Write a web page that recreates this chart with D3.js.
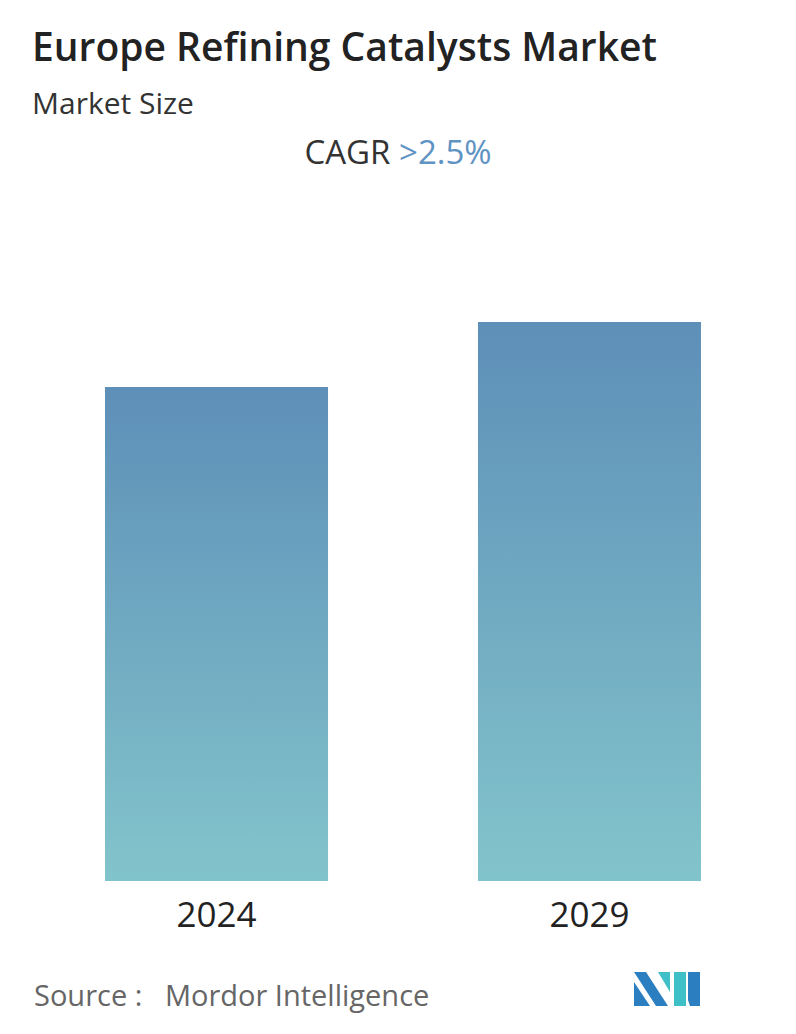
<!DOCTYPE html>
<html><head><meta charset="utf-8">
<script src="https://cdn.jsdelivr.net/npm/d3@7"></script>
<style>body{margin:0;background:#fff;font-family:"Open Sans",sans-serif}</style>
</head><body><div id="chart"></div>
<script>
var years = ["2024", "2029"];
var sizes = [4.94, 5.59];

var svg = d3.select('#chart').append('svg').attr('width', 796).attr('height', 1034);

var defs = svg.append('defs');
var grad = defs.append('linearGradient').attr('id', 'barGrad')
   .attr('x1', 0).attr('y1', 0).attr('x2', 0).attr('y2', 1);
grad.append('stop').attr('offset', '0%').attr('stop-color', '#5e8fb8');
grad.append('stop').attr('offset', '100%').attr('stop-color', '#82c4cb');

svg.append('text').attr('x', 32).attr('y', 61).attr('font-size', 39).attr('font-weight', 600)
   .attr('fill', '#222').text('Europe Refining Catalysts Market');
svg.append('text').attr('x', 32).attr('y', 114).attr('font-size', 30).attr('fill', '#333').text('Market Size');

var cagr = svg.append('text').attr('x', 398).attr('y', 164).attr('text-anchor', 'middle').attr('font-size', 33);
cagr.append('tspan').attr('fill', '#333').text('CAGR ');
cagr.append('tspan').attr('fill', '#5e93c4').text('>2.5%');

var x = d3.scaleBand().domain(years).range([105, 701]).paddingInner(0.402).paddingOuter(0);
var y = d3.scaleLinear().domain([0, d3.max(sizes)]).range([881, 322]);

svg.selectAll('rect.bar').data(years).enter().append('rect')
   .attr('class', 'bar')
   .attr('x', function(d) { return x(d); })
   .attr('y', function(d, i) { return y(sizes[i]); })
   .attr('width', x.bandwidth())
   .attr('height', function(d, i) { return y(0) - y(sizes[i]); })
   .attr('fill', 'url(#barGrad)');

svg.selectAll('text.year').data(years).enter().append('text')
   .attr('class', 'year')
   .attr('x', function(d) { return x(d) + x.bandwidth() / 2; })
   .attr('y', 927).attr('text-anchor', 'middle').attr('font-size', 35).attr('fill', '#222')
   .text(function(d) { return d; });

svg.append('text').attr('x', 34).attr('y', 1006).attr('font-size', 29).attr('fill', '#666')
   .style('white-space', 'pre').text('Source :   Mordor Intelligence');

// logo
var logo = svg.append('g').attr('transform', 'translate(634,972)');
logo.append('path').attr('d', 'M0,0 L12,0 L34,34 L22,34 Z M0,10 L16,34 L0,34 Z').attr('fill', '#2b7fc0');
logo.append('path').attr('d', 'M24,0 L36,0 L36,20 Z').attr('fill', '#3fbfc8');
logo.append('path').attr('d', 'M40,0 L52,0 L52,34 L40,34 Z').attr('fill', '#3fbfc8');
logo.append('path').attr('d', 'M54,0 L66,0 L66,34 L56,34 L54,28 Z').attr('fill', '#2b7fc0');
</script></body></html>
